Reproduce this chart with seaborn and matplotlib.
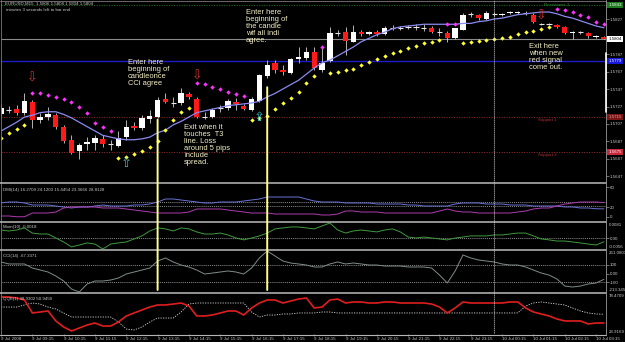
import numpy as np
import pandas as pd
import matplotlib
matplotlib.use("Agg")
import matplotlib.pyplot as plt
import matplotlib.transforms as mtrans
from matplotlib.patches import ConnectionPatch
from matplotlib.lines import Line2D
import seaborn as sns

nan = float("nan")

# ---------------- data (EURUSD M15, 9-10 Jul 2008) ----------------
bar_open = [1.5718, 1.5723, 1.5724, 1.5720, 1.5732, 1.5712, 1.5715, 1.5717, 1.5704, 1.5689,
            1.5676, 1.5684, 1.5685, 1.5690, 1.5684, 1.5682, 1.5692, 1.5705, 1.5702, 1.5713,
            1.5715, 1.5736, 1.5731, 1.5731, 1.5741, 1.5736, 1.5715, 1.5715, 1.5725, 1.5725,
            1.5732, 1.5728, 1.5723, 1.5733, 1.5762, 1.5777, 1.5769, 1.5765, 1.5781, 1.5782,
            1.5789, 1.5769, 1.5779, 1.5811, 1.5812, 1.5801, 1.5812, 1.5810, 1.5812, 1.5810,
            1.5817, 1.5817, 1.5818, 1.5818, 1.5817, 1.5817, 1.5812, 1.5811, 1.5805, 1.5814,
            1.5833, 1.5832, 1.5827, 1.5833, 1.5832, 1.5834, 1.5834, 1.5834, 1.5832, 1.5821,
            1.5821, 1.5820, 1.5818, 1.5811, 1.5812, 1.5811, 1.5806, 1.5806]
bar_high = [1.5730, 1.5728, 1.5729, 1.5742, 1.5734, 1.5720, 1.5726, 1.5720, 1.5706, 1.5694,
            1.5685, 1.5692, 1.5694, 1.5694, 1.5689, 1.5699, 1.5712, 1.5709, 1.5717, 1.5723,
            1.5738, 1.5742, 1.5738, 1.5748, 1.5744, 1.5738, 1.5721, 1.5725, 1.5729, 1.5736,
            1.5737, 1.5730, 1.5738, 1.5764, 1.5780, 1.5780, 1.5774, 1.5782, 1.5795, 1.5795,
            1.5795, 1.5795, 1.5818, 1.5814, 1.5818, 1.5820, 1.5814, 1.5813, 1.5814, 1.5819,
            1.5820, 1.5819, 1.5820, 1.5821, 1.5821, 1.5819, 1.5817, 1.5813, 1.5817, 1.5834,
            1.5835, 1.5833, 1.5836, 1.5835, 1.5834, 1.5836, 1.5836, 1.5836, 1.5834, 1.5822,
            1.5822, 1.5821, 1.5819, 1.5813, 1.5813, 1.5812, 1.5809, 1.5808]
bar_low = [1.5716, 1.5720, 1.5717, 1.5717, 1.5702, 1.5708, 1.5712, 1.5701, 1.5685, 1.5673,
           1.5667, 1.5677, 1.5677, 1.5681, 1.5677, 1.5681, 1.5689, 1.5700, 1.5700, 1.5708,
           1.5714, 1.5731, 1.5726, 1.5729, 1.5736, 1.5714, 1.5713, 1.5714, 1.5721, 1.5723,
           1.5723, 1.5723, 1.5722, 1.5732, 1.5760, 1.5765, 1.5763, 1.5764, 1.5777, 1.5780,
           1.5769, 1.5766, 1.5778, 1.5808, 1.5786, 1.5801, 1.5808, 1.5809, 1.5808, 1.5809,
           1.5814, 1.5814, 1.5816, 1.5814, 1.5813, 1.5811, 1.5808, 1.5801, 1.5804, 1.5814,
           1.5829, 1.5826, 1.5826, 1.5830, 1.5830, 1.5833, 1.5833, 1.5832, 1.5822, 1.5820,
           1.5820, 1.5817, 1.5810, 1.5804, 1.5810, 1.5805, 1.5805, 1.5804]
bar_close = [1.5725, 1.5723, 1.5720, 1.5733, 1.5712, 1.5715, 1.5718, 1.5704, 1.5688, 1.5674,
             1.5683, 1.5686, 1.5691, 1.5684, 1.5684, 1.5691, 1.5704, 1.5702, 1.5714, 1.5716,
             1.5734, 1.5732, 1.5731, 1.5742, 1.5738, 1.5715, 1.5715, 1.5723, 1.5725, 1.5733,
             1.5730, 1.5724, 1.5736, 1.5763, 1.5774, 1.5769, 1.5766, 1.5781, 1.5784, 1.5789,
             1.5771, 1.5777, 1.5811, 1.5811, 1.5802, 1.5812, 1.5810, 1.5812, 1.5810, 1.5817,
             1.5817, 1.5817, 1.5818, 1.5818, 1.5817, 1.5812, 1.5812, 1.5805, 1.5817, 1.5832,
             1.5833, 1.5828, 1.5834, 1.5833, 1.5833, 1.5835, 1.5835, 1.5834, 1.5824, 1.5821,
             1.5821, 1.5818, 1.5811, 1.5812, 1.5812, 1.5808, 1.5808, 1.5804]

t3_line = [1.5699, 1.5704, 1.5709, 1.5715, 1.5717, 1.5720, 1.5721, 1.5721, 1.5718, 1.5714,
           1.5709, 1.5704, 1.5699, 1.5694, 1.5692, 1.5690, 1.5689, 1.5689, 1.5690, 1.5692,
           1.5697, 1.5700, 1.5706, 1.5710, 1.5715, 1.5720, 1.5722, 1.5724, 1.5726, 1.5728,
           1.5729, 1.5730, 1.5731, 1.5733, 1.5738, 1.5742, 1.5747, 1.5752, 1.5757, 1.5764,
           1.5771, 1.5777, 1.5780, 1.5785, 1.5790, 1.5795, 1.5801, 1.5805, 1.5809, 1.5812,
           1.5816, 1.5818, 1.5819, 1.5820, 1.5821, 1.5821, 1.5821, 1.5821, 1.5821, 1.5822,
           1.5822, 1.5824, 1.5825, 1.5827, 1.5828, 1.5830, 1.5832, 1.5833, 1.5834, 1.5835,
           1.5835, 1.5833, 1.5830, 1.5828, 1.5825, 1.5822, 1.5819, 1.5817]

sar_buy = [1.5691, 1.5697, 1.5701, 1.5706, nan, nan, nan, nan, nan, nan,
           nan, nan, nan, nan, nan, 1.5668, 1.5669, 1.5673, 1.5676, 1.5681,
           1.5688, 1.5700, 1.5712, 1.5721, 1.5725, nan, nan, nan, nan, nan,
           nan, nan, 1.5712, 1.5714, 1.5716, 1.5724, 1.5731, 1.5737, 1.5744, 1.5754,
           1.5762, nan, 1.5765, 1.5766, 1.5769, 1.5770, 1.5774, 1.5778, 1.5781, 1.5785,
           1.5788, 1.5790, 1.5794, 1.5796, 1.5800, 1.5801, 1.5803, nan, nan, 1.5800,
           1.5801, 1.5802, 1.5803, 1.5804, 1.5805, 1.5806, 1.5810, 1.5812, 1.5813, 1.5816,
           1.5818, nan, nan, nan, nan, nan, nan, nan]
sar_sell = [nan, nan, nan, nan, 1.5742, 1.5742, 1.5740, 1.5738, 1.5736, 1.5732,
            1.5726, 1.5720, 1.5708, 1.5704, 1.5699, nan, nan, nan, nan, nan,
            nan, nan, nan, nan, nan, 1.5754, 1.5753, 1.5749, 1.5747, 1.5744,
            1.5741, 1.5739, nan, nan, nan, nan, nan, nan, nan, nan,
            nan, 1.5795, nan, nan, nan, nan, nan, nan, nan, nan,
            nan, nan, nan, nan, nan, nan, nan, 1.5821, 1.5821, nan,
            nan, nan, nan, nan, nan, nan, nan, nan, nan, nan,
            nan, 1.5838, 1.5837, 1.5835, 1.5832, 1.5829, 1.5824, 1.5821]

dmi_plus = [28, 30, 30, 28, 24, 24, 24, 22, 20, 18, 20, 20, 22, 24, 22, 22, 22, 24, 24, 26,
            30, 36, 36, 34, 32, 30, 28, 28, 30, 30, 30, 32, 34, 36, 40, 40, 40, 40, 40, 36,
            32, 30, 30, 30, 28, 28, 28, 28, 26, 26, 26, 26, 24, 24, 22, 22, 22, 22, 26, 28,
            28, 28, 26, 26, 26, 24, 24, 24, 22, 22, 22, 22, 20, 20, 18, 18, 16.5, 16.27]
dmi_minus = [2, 2, 0.5, 0.5, 8, 8, 8, 10, 18, 20, 20, 20, 20, 18, 18, 18, 16, 14, 12, 10,
             8, 8, 8, 8, 10, 16, 16, 16, 16, 14, 12, 10, 8, 8, 8, 6, 6, 6, 6, 6,
             6, 4, 4, 6, 12, 12, 10, 10, 10, 8, 8, 8, 8, 8, 8, 8, 12, 16, 12, 10,
             10, 8, 8, 8, 8, 8, 10, 12, 16, 18, 18, 22, 26, 28, 30, 30, 30, 28.81]

mom_vals = [0.0044, 0.0039, 0.0044, 0.0055, 0.0028, 0.0023, 0.0023, 0.0002, -0.0019, -0.0045,
            -0.0035, -0.0024, -0.0030, -0.0056, -0.0030, -0.0024, -0.0019, -0.0003, 0.0013, 0.0039,
            0.0055, 0.0050, 0.0039, 0.0055, 0.0050, 0.0034, 0.0023, 0.0023, 0.0028, 0.0018,
            0.0002, -0.0008, 0.0002, 0.0013, 0.0028, 0.0050, 0.0055, 0.0060, 0.0060, 0.0055,
            0.0050, 0.0065, 0.0081, 0.0044, 0.0028, 0.0039, 0.0044, 0.0039, 0.0034, 0.0044,
            0.0050, 0.0034, 0.0007, 0.0002, 0.0007, 0.0002, -0.0003, -0.0008, 0.0002, 0.0007,
            0.0013, 0.0013, 0.0013, 0.0018, 0.0018, 0.0023, 0.0028, 0.0028, 0.0013, -0.0003,
            -0.0008, -0.0014, -0.0014, -0.0019, -0.0024, -0.0030, -0.0035, -0.0018]

cci_vals = [134, 111, 111, 111, 64, 41, 18, -28, -86, -179,
            -213.3, -121, -86, -86, -75, -51, -5, 18, 41, 64,
            145, 180, 134, 99, 76, 41, -5, 6, 18, 30,
            18, -5, 64, 180, 261.08, 203, 145, 122, 111, 99,
            76, 76, 111, 134, 111, 122, 111, 99, 99, 87,
            87, 87, 76, 76, 76, 64, -17, -109, 30, 215,
            180, 157, 145, 134, 111, 99, 99, 76, 41, 6,
            -17, -63, -144, -156, -144, -121, -109, -67.34]

qqe_fast = [74.4, 74.4, 73.0, 70.3, 52.6, 53.9, 55.3, 41.7, 33.5, 28.0,
            32.1, 36.2, 38.9, 34.8, 34.8, 40.3, 48.5, 52.6, 56.7, 60.7,
            63.5, 63.5, 64.8, 66.2, 62.1, 48.5, 48.5, 49.8, 52.6, 55.3,
            55.3, 49.8, 59.4, 66.2, 70.3, 70.3, 66.2, 68.9, 71.6, 73.0,
            59.4, 60.7, 70.3, 71.6, 66.2, 67.6, 67.6, 66.2, 66.2, 67.6,
            67.6, 66.2, 66.2, 66.2, 66.2, 64.8, 60.7, 52.6, 59.4, 67.6,
            66.2, 66.2, 66.2, 66.2, 66.2, 67.6, 67.6, 59.4, 53.9, 51.2,
            48.5, 44.4, 41.7, 41.7, 41.7, 37.6, 38.9, 38.9]
qqe_slow = [60.7, 60.7, 60.7, 63.5, 66.2, 64.8, 60.7, 58.0, 52.6, 47.1,
            47.1, 47.1, 47.1, 47.1, 47.1, 40.3, 30.7, 29.4, 33.5, 40.3,
            45.7, 45.7, 45.7, 53.9, 64.8, 66.2, 66.2, 66.2, 66.2, 66.2,
            66.2, 66.2, 53.9, 47.1, 49.8, 49.8, 51.2, 51.2, 52.6, 52.6,
            52.6, 53.9, 53.9, 52.6, 52.6, 52.6, 52.6, 52.6, 52.6, 52.6,
            52.6, 52.6, 52.6, 52.6, 52.6, 52.6, 52.6, 52.6, 52.6, 52.6,
            52.6, 52.6, 52.6, 52.6, 52.6, 52.6, 52.6, 62.1, 66.2, 67.6,
            66.2, 64.8, 63.5, 59.4, 55.3, 52.6, 51.2, 50.95]

date_labels = ["9 Jul 2008", "9 Jul 09:15", "9 Jul 10:15", "9 Jul 11:15", "9 Jul 12:15",
               "9 Jul 13:15", "9 Jul 14:15", "9 Jul 15:15", "9 Jul 16:15", "9 Jul 17:15",
               "9 Jul 18:15", "9 Jul 19:15", "9 Jul 20:15", "9 Jul 21:15", "9 Jul 22:15",
               "9 Jul 23:15", "10 Jul 00:15", "10 Jul 01:15", "10 Jul 02:15", "10 Jul 03:15"]
price_ticks = [1.5827, 1.5787, 1.5767, 1.5747, 1.5727, 1.5707, 1.5687, 1.5667, 1.5647]

bid_price = 1.5804
pivot_line = 1.5779
support_1 = 1.5715
support_2 = 1.5675
resistance_1 = 1.5843
entry_bars = [20, 34]
entry_tops = [1.5712, 1.5749]
down_arrows = [(4, 1.5760), (25, 1.5762), (69, 1.5830)]
up_arrows = [(16, 1.5662), (33, 1.5714)]

# ---------------- style ----------------
sns.set_theme(style="dark", rc={"axes.facecolor": "black", "figure.facecolor": "black",
                                "axes.grid": False, "savefig.facecolor": "black"})
plt.rcParams["font.family"] = ["Liberation Sans", "DejaVu Sans"]

W, H = 625, 342
fig = plt.figure(figsize=(W / 100, H / 100), dpi=100, facecolor="black")

PL, PR = 1, 606
BAR_PX = 7.83
XMAX = (PR - PL) / BAR_PX
SMALL = 3.2
LBL = "#c8c8c8"

def panel(top, bot):
    ax = fig.add_axes([PL / W, 1 - bot / H, (PR - PL) / W, (bot - top) / H])
    ax.set_facecolor("black")
    for s in ax.spines.values():
        s.set_visible(False)
    ax.set_xlim(0, XMAX)
    ax.tick_params(axis="x", bottom=False, labelbottom=False)
    ax.yaxis.tick_right()
    ax.tick_params(axis="y", left=False, labelleft=False, right=True, labelright=True,
                   colors="#9a9a9a", labelcolor=LBL, labelsize=SMALL, length=1.8,
                   width=0.5, pad=1)
    return ax

def figline(x0, y0, x1, y1, color, lw, ls="-", z=30):
    fig.add_artist(Line2D([x0 / W, x1 / W], [1 - y0 / H, 1 - y1 / H], color=color,
                          lw=lw, ls=ls, transform=fig.transFigure, zorder=z))

def right_text(ax, yv, text, va="center", fc=None, tc=LBL):
    tr = mtrans.blended_transform_factory(ax.transAxes, ax.transData)
    kw = {}
    if fc is not None:
        kw["bbox"] = dict(boxstyle="square,pad=0.22", fc=fc, ec="none")
    ax.text(1.004, yv, text, transform=tr, fontsize=SMALL, color=tc, va=va,
            ha="left", clip_on=False, **kw)

bars = np.arange(len(bar_open))
df = pd.DataFrame({"bar": bars, "open": bar_open, "high": bar_high, "low": bar_low,
                   "close": bar_close, "t3": t3_line, "sar_buy": sar_buy,
                   "sar_sell": sar_sell, "dmi_plus": dmi_plus, "dmi_minus": dmi_minus,
                   "mom": mom_vals, "cci": cci_vals, "qqe_fast": qqe_fast,
                   "qqe_slow": qqe_slow})

# ---------------- main price panel ----------------
ax = panel(1, 182)
ax.set_ylim(1.56407, 1.58476)

ax.axhline(bid_price, color="#8a8a8a", lw=0.8, zorder=1)
ax.axhline(pivot_line, color="#1c1cc8", lw=1.0, zorder=1)
ax.axhline(support_1, color="#8c2a2a", lw=0.6, ls=(0, (1.5, 1.5)), zorder=1)
ax.axhline(support_2, color="#8c2a2a", lw=0.6, ls=(0, (1.5, 1.5)), zorder=1)
ax.axhline(resistance_1, color="#1f6f1f", lw=0.6, ls=(0, (1.5, 1.5)), zorder=1)

up = df.close > df.open
dn = df.close < df.open
fl = df.close == df.open
ax.vlines(df.bar, df.low, df.high, color="#d0d0d0", lw=0.6, zorder=2)
ax.bar(df.bar[up], (df.close - df.open)[up], bottom=df.open[up], width=0.68,
       color="white", lw=0, zorder=3)
ax.bar(df.bar[dn], (df.open - df.close)[dn], bottom=df.close[dn], width=0.68,
       color="#ff1a1a", lw=0, zorder=3)
ax.hlines(df.open[fl], df.bar[fl] - 0.34, df.bar[fl] + 0.34, color="#e6e6e6",
          lw=0.8, zorder=3)

sns.lineplot(data=df, x="bar", y="t3", ax=ax, color="#8a8af0", lw=0.9,
             estimator=None, legend=False, zorder=4)
sns.scatterplot(data=df, x="bar", y="sar_buy", ax=ax, color="#ffff33", marker="D",
                s=5, linewidth=0, legend=False, zorder=5)
sns.scatterplot(data=df, x="bar", y="sar_sell", ax=ax, color="#ff33ff", marker="D",
                s=5, linewidth=0, legend=False, zorder=5)

for b, p in down_arrows:
    ax.text(b, p, "\u21e9", color="#cc3434", fontsize=9, ha="center", va="center",
            family="DejaVu Sans", zorder=6)
for b, p in up_arrows:
    ax.text(b, p, "\u21e7", color="#38bcbc", fontsize=9.5, ha="center", va="center",
            family="DejaVu Sans", zorder=6)

note_kw = dict(color="#f4efc6", fontsize=5.4, ha="left", va="top", linespacing=1.0, zorder=8)
ax.text(31.3, 1.5838, "Enter here\nbeginning of\nthe candle\nwif all indi\nagree.", **note_kw)
ax.text(16.2, 1.5781, "Enter here\nbeginning of\ncandleonce\nCCi agree", **note_kw)
ax.text(23.4, 1.5707, "Exit when it\ntouches  T3\nline. Loss\naround 5 pips\ninclude\nspread.", **note_kw)
ax.text(67.4, 1.5800, "Exit here\nwhen new\nred signal\ncome out.", **note_kw)

ax.text(68.6, 1.5712, "Support 1", color="#a83232", fontsize=SMALL, va="center", zorder=7)
ax.text(68.6, 1.5672, "Support 2", color="#a83232", fontsize=SMALL, va="center", zorder=7)
ax.text(69.4, 1.5843, "Resistance 1", color="#2e8b2e", fontsize=SMALL, va="center", zorder=7)

ax.set_yticks(price_ticks)
ax.set_yticklabels([f"{v:.4f}" for v in price_ticks])
right_text(ax, resistance_1, f"{resistance_1:.4f}", fc="#1e7a1e", tc="white")
right_text(ax, bid_price, f"{bid_price:.4f}", fc="white", tc="black")
right_text(ax, pivot_line, f"{pivot_line:.4f}", fc="#1818d8", tc="white")
right_text(ax, support_1, f"{support_1:.4f}", fc="#7a1616", tc="#e0a0a0")
right_text(ax, support_2, f"{support_2:.4f}", fc="#c8283c", tc="white")
ax_main = ax

# ---------------- DMI ----------------
ax = panel(184, 221)
ax.set_ylim(-8, 66)
for lv in (30, 22):
    ax.axhline(lv, color="#bdbdbd", lw=0.5, ls=(0, (1.5, 1.5)), zorder=1)
sns.lineplot(data=df, x="bar", y="dmi_plus", ax=ax, color="#6a72d8", lw=0.7,
             estimator=None, legend=False, zorder=3)
sns.lineplot(data=df, x="bar", y="dmi_minus", ax=ax, color="#b03cb0", lw=0.7,
             estimator=None, legend=False, zorder=3)
ax.set_yticks([60, 20, 0])
ax.set_yticklabels(["60", "20", "0"])
ax.text(0.004, 0.9, "DMI(14) 16.2709 24.1203 15.4454 23.3666 28.8128", transform=ax.transAxes,
        color=LBL, fontsize=SMALL, va="top")
ax_dmi = ax

# ---------------- Momentum ----------------
ax = panel(223, 249)
ax.set_ylim(-0.0056, 0.0081)
ax.axhline(0, color="#bdbdbd", lw=0.5, ls=(0, (1.5, 1.5)), zorder=1)
sns.lineplot(data=df, x="bar", y="mom", ax=ax, color="#3f9a3f", lw=0.7,
             estimator=None, legend=False, zorder=3)
ax.set_yticks([0])
ax.set_yticklabels(["0.00"])
right_text(ax, 0.0081, "0.0081", va="top")
right_text(ax, -0.0056, "-0.0056", va="bottom")
ax.text(0.004, 0.92, "Mom(10) -0.0018", transform=ax.transAxes, color=LBL,
        fontsize=SMALL, va="top")
ax_mom = ax

# ---------------- CCI ----------------
ax = panel(251, 292)
ax.set_ylim(-213.345, 261.08)
for lv in (100, -100):
    ax.axhline(lv, color="#bdbdbd", lw=0.5, ls=(0, (1.5, 1.5)), zorder=1)
sns.lineplot(data=df, x="bar", y="cci", ax=ax, color="#7f8c8c", lw=0.7,
             estimator=None, legend=False, zorder=3)
ax.set_yticks([100, 0, -100])
ax.set_yticklabels(["100", "0.00", "-100"])
right_text(ax, 261.08, "261.0803", va="top")
right_text(ax, -213.345, "-213.345", va="bottom")
ax.text(0.004, 0.93, "CCI(14) -67.3371", transform=ax.transAxes, color=LBL,
        fontsize=SMALL, va="top")
ax_cci = ax

# ---------------- QQE ----------------
ax = panel(294, 334)
ax.set_ylim(23.92, 78.47)
sns.lineplot(data=df, x="bar", y="qqe_slow", ax=ax, color="#d8d8d8", lw=0.6,
             estimator=None, legend=False, zorder=2)
ax.lines[-1].set_linestyle((0, (1.5, 1.5)))
sns.lineplot(data=df, x="bar", y="qqe_fast", ax=ax, color="#e01e1e", lw=1.2,
             estimator=None, legend=False, zorder=3)
ax.set_yticks([])
right_text(ax, 78.47, "78.4709", va="top")
right_text(ax, 23.92, "23.9169", va="bottom")
ax.text(0.004, 0.93, "QQE(1) 38.9302 50.9450", transform=ax.transAxes, color=LBL,
        fontsize=SMALL, va="top")
ax.set_xticks(bars[::4])
ax.set_xticklabels(date_labels)
ax.tick_params(axis="x", bottom=True, labelbottom=True, colors="#9a9a9a",
               labelcolor=LBL, labelsize=SMALL, length=1.5, width=0.5, pad=0.8)
for t in ax.get_xticklabels():
    t.set_ha("left")
ax_qqe = ax

for a in (ax_main, ax_dmi, ax_mom, ax_cci, ax_qqe):
    a.set_xlim(0, XMAX)
    a.set_xlabel("")
    a.set_ylabel("")

# ---------------- signal lines across panels ----------------
for b, top in zip(entry_bars, entry_tops):
    cp = ConnectionPatch(xyA=(b, top), coordsA="data", axesA=ax_main,
                         xyB=(b, -190), coordsB="data", axesB=ax_cci,
                         color="#ffff8c", lw=1.4, zorder=40)
    fig.add_artist(cp)
cp = ConnectionPatch(xyA=(63, 1.58476), coordsA="data", axesA=ax_main,
                     xyB=(63, 23.92), coordsB="data", axesB=ax_qqe,
                     color="#d0d0d0", lw=0.5, ls=(0, (1.5, 1.5)), zorder=35)
fig.add_artist(cp)

# ---------------- frame and separators ----------------
GR = "#b4b4b4"
figline(0, 0.5, PR, 0.5, "#7a7a7a", 0.6)
figline(0.5, 0, 0.5, 334, "#7a7a7a", 0.6)
for yy in (183, 222, 250, 293):
    figline(0, yy, PR, yy, GR, 1.15)
figline(0, 334.6, PR, 334.6, GR, 0.8)
figline(PR + 0.3, 0, PR + 0.3, 335, "#9a9a9a", 0.6)
figline(PR - 0.3, 53, PR - 0.3, 112, "white", 1.2)

fig.text(5 / W, 1 - 4 / H, "EURUSD,M15  1.5806 1.5808 1.5804 1.5804", color=LBL,
         fontsize=SMALL, va="center", ha="left")
fig.text(6 / W, 1 - 9.8 / H, "minutes 3 seconds left to bar end", color=LBL,
         fontsize=SMALL, va="center", ha="left")

fig.savefig("out.png", dpi=100, facecolor="black")
